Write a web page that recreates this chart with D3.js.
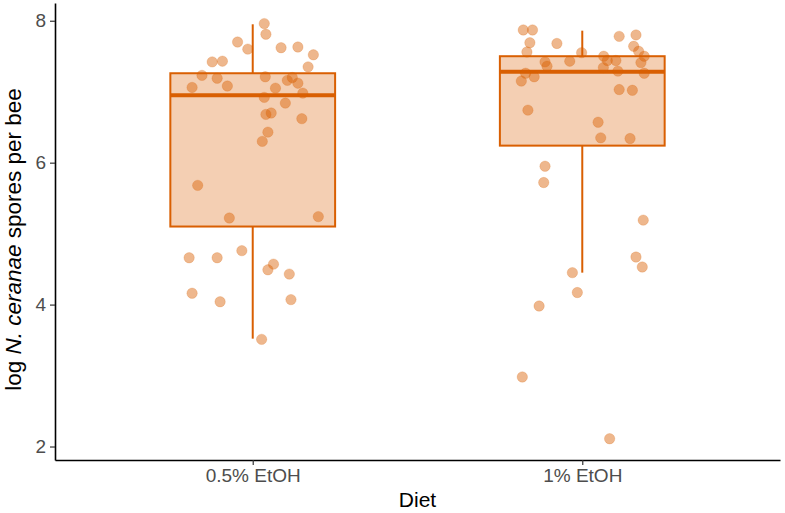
<!DOCTYPE html>
<html lang="en">
<head>
    <meta charset="UTF-8">
    <title>N. ceranae spores by diet</title>
    <script src="https://d3js.org/d3.v7.min.js"></script>
    <style>
        body { margin: 0; background: #fff; }
        text { font-family: "Liberation Sans", Arial, sans-serif; }
    </style>
</head>
<body>
    <div id="chart"></div>

    <script>
        // Diet groups
        var categories = ["0.5% EtOH", "1% EtOH"];

        // Box statistics, one value per group
        var q1 = [5.10, 6.24];
        var medians = [6.95, 7.28];
        var q3 = [7.26, 7.50];
        var whiskerLow = [3.52, 4.45];
        var whiskerHigh = [7.95, 7.86];

        // Jittered observations: value and horizontal offset (fraction of a category step)
        var etoh05Values = [7.96, 7.81, 7.70, 7.60, 7.62, 7.63, 7.52, 7.35, 7.42, 7.43,
            7.23, 7.19, 7.06, 7.08, 7.21, 7.16, 7.20, 7.12, 7.05, 6.98,
            6.92, 6.84, 6.68, 6.70, 6.62, 6.43, 6.30, 5.68, 5.22, 5.24,
            4.66, 4.66, 4.76, 4.57, 4.49, 4.43, 4.16, 4.04, 4.07, 3.51];
        var etoh05Jitter = [0.035, 0.040, -0.046, -0.015, 0.086, 0.137, 0.184, 0.168, -0.123, -0.092,
            -0.154, -0.108, -0.184, -0.077, 0.038, 0.105, 0.120, 0.137, 0.069, 0.152,
            0.035, 0.099, 0.040, 0.056, 0.149, 0.046, 0.029, -0.167, -0.071, 0.199,
            -0.193, -0.108, -0.033, 0.063, 0.046, 0.111, -0.184, -0.099, 0.116, 0.027];

        var etoh1Values = [7.87, 7.87, 7.69, 7.56, 7.68, 7.78, 7.80, 7.64, 7.57, 7.50,
            7.41, 7.55, 7.50, 7.44, 7.44, 7.34, 7.29, 7.26, 7.42, 7.36,
            7.43, 7.26, 7.21, 7.15, 7.03, 7.02, 6.74, 6.57, 6.35, 6.34,
            5.95, 5.72, 5.19, 4.67, 4.53, 4.45, 4.17, 3.98, 2.98, 2.11];
        var etoh1Jitter = [-0.179, -0.151, -0.159, -0.168, -0.077, 0.112, 0.163, 0.156, 0.171, 0.188,
            0.178, -0.002, 0.065, 0.076, 0.102, 0.064, 0.108, 0.188, -0.113, -0.107,
            -0.038, -0.172, -0.146, -0.185, 0.112, 0.152, -0.165, 0.048, 0.056, 0.145,
            -0.113, -0.117, 0.185, 0.163, 0.182, -0.030, -0.015, -0.131, -0.182, 0.083];

        var yTicks = [2, 4, 6, 8];

        var width = 785, height = 513;
        var margin = { left: 55, right: 5, top: 3, bottom: 53 };
        var orange = "#d95f02";

        var svg = d3.select("#chart")
            .append("svg")
            .attr("width", width)
            .attr("height", height);

        var x = d3.scalePoint()
            .domain(categories)
            .range([margin.left, width - margin.right])
            .padding(0.6);
        var step = x.step();

        var y = d3.scaleLinear()
            .domain([1.81, 8.25])
            .range([height - margin.bottom, margin.top]);

        // Boxes
        var boxData = categories.map(function(c, i) {
            return { cat: c, q1: q1[i], med: medians[i], q3: q3[i], lo: whiskerLow[i], hi: whiskerHigh[i] };
        });
        var boxW = step * 0.5;

        var boxes = svg.selectAll(".box")
            .data(boxData)
            .enter()
            .append("g")
            .attr("class", "box");

        boxes.append("line")
            .attr("x1", function(d) { return x(d.cat); })
            .attr("x2", function(d) { return x(d.cat); })
            .attr("y1", function(d) { return y(d.q3); })
            .attr("y2", function(d) { return y(d.hi); })
            .attr("stroke", orange)
            .attr("stroke-width", 2);

        boxes.append("line")
            .attr("x1", function(d) { return x(d.cat); })
            .attr("x2", function(d) { return x(d.cat); })
            .attr("y1", function(d) { return y(d.q1); })
            .attr("y2", function(d) { return y(d.lo); })
            .attr("stroke", orange)
            .attr("stroke-width", 2);

        boxes.append("rect")
            .attr("x", function(d) { return x(d.cat) - boxW / 2; })
            .attr("y", function(d) { return y(d.q3); })
            .attr("width", boxW)
            .attr("height", function(d) { return y(d.q1) - y(d.q3); })
            .attr("fill", orange)
            .attr("fill-opacity", 0.3)
            .attr("stroke", orange)
            .attr("stroke-width", 2);

        boxes.append("line")
            .attr("x1", function(d) { return x(d.cat) - boxW / 2; })
            .attr("x2", function(d) { return x(d.cat) + boxW / 2; })
            .attr("y1", function(d) { return y(d.med); })
            .attr("y2", function(d) { return y(d.med); })
            .attr("stroke", orange)
            .attr("stroke-width", 4);

        // Points
        var points = [];
        etoh05Values.forEach(function(v, i) { points.push({ cat: categories[0], v: v, j: etoh05Jitter[i] }); });
        etoh1Values.forEach(function(v, i) { points.push({ cat: categories[1], v: v, j: etoh1Jitter[i] }); });

        svg.selectAll(".pt")
            .data(points)
            .enter()
            .append("circle")
            .attr("class", "pt")
            .attr("cx", function(d) { return x(d.cat) + d.j * step; })
            .attr("cy", function(d) { return y(d.v); })
            .attr("r", 5.2)
            .attr("fill", orange)
            .attr("fill-opacity", 0.45)
            .attr("stroke", orange)
            .attr("stroke-opacity", 0.25)
            .attr("stroke-width", 0.8);

        // Axes
        var xAxis = svg.append("g")
            .attr("transform", "translate(0," + (height - margin.bottom) + ")")
            .call(d3.axisBottom(x).tickSize(5).tickPadding(4).tickSizeOuter(0));

        var yAxis = svg.append("g")
            .attr("transform", "translate(" + margin.left + ",0)")
            .call(d3.axisLeft(y).tickValues(yTicks).tickFormat(d3.format("d"))
                .tickSize(5).tickPadding(4).tickSizeOuter(0));

        [xAxis, yAxis].forEach(function(ax) {
            ax.select(".domain").attr("stroke", "#000").attr("stroke-width", 1.6);
            ax.selectAll(".tick line").attr("stroke", "#333").attr("stroke-width", 1.2);
            ax.selectAll(".tick text")
                .attr("fill", "#4d4d4d")
                .style("font-size", "19px")
                .style("font-family", "'Liberation Sans', Arial, sans-serif");
        });

        // Axis titles
        svg.append("text")
            .attr("x", (margin.left + width - margin.right) / 2)
            .attr("y", 507)
            .attr("text-anchor", "middle")
            .style("font-size", "21px")
            .text("Diet");

        var yTitle = svg.append("text")
            .attr("transform", "rotate(-90)")
            .attr("x", -(margin.top + height - margin.bottom) / 2 - 8)
            .attr("y", 21)
            .attr("text-anchor", "middle")
            .style("font-size", "22.5px");
        yTitle.append("tspan").text("log ");
        yTitle.append("tspan").style("font-style", "italic").text("N. ceranae");
        yTitle.append("tspan").text(" spores per bee");
    </script>
</body>
</html>
